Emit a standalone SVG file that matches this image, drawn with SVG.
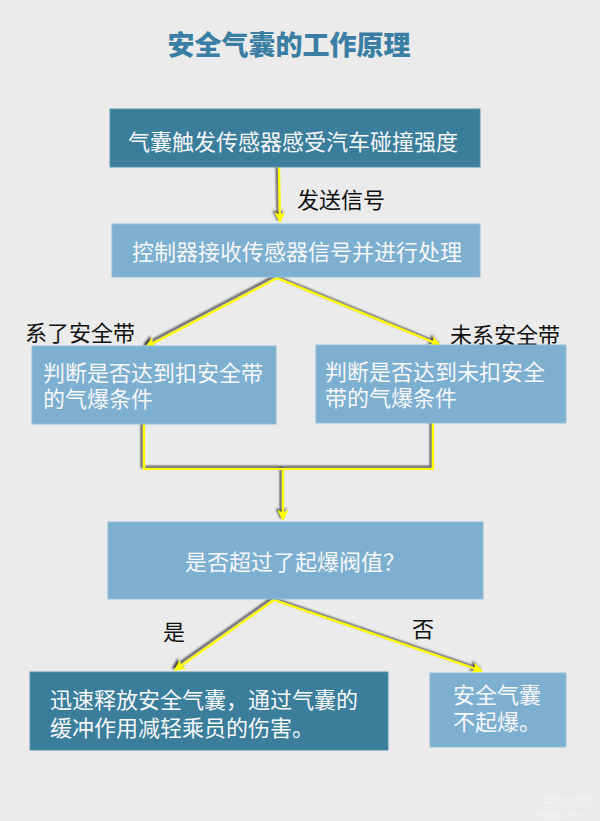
<svg xmlns="http://www.w3.org/2000/svg" width="600" height="821" viewBox="0 0 600 821">
  <defs>
    <style>
      .title { font-family: "Noto Sans CJK SC", "Noto Sans", sans-serif; font-weight: 900; font-size: 27px; fill: #3a7fa3; }
      .box-dark { fill: #3a7e9c; stroke: #5b94ae; stroke-width: 1; }
      .box-light { fill: #7cafd0; stroke: #93bedb; stroke-width: 1; }
      .t { font-family: "Noto Sans CJK SC", "Liberation Sans", sans-serif; font-size: 22px; fill: #f7f7f7; }
      .lbl { font-family: "Noto Sans CJK SC", "Liberation Sans", sans-serif; font-size: 22px; fill: #111111; }
      .conn { fill: none; stroke: #ffff00; stroke-width: 2.2; }
      .wm { font-family: "Noto Sans CJK SC", "Liberation Sans", sans-serif; fill: #d9d9d9; stroke: #f6f6f6; stroke-width: 0.4; }
    </style>
    <marker id="ah" viewBox="0 0 10 10" refX="9" refY="5" markerWidth="5.5" markerHeight="5" orient="auto" markerUnits="strokeWidth">
      <path d="M0,0 L10,5 L0,10 L2.5,5 Z" fill="#ffff00"/>
    </marker>
    <filter id="sh" x="-20%" y="-20%" width="140%" height="140%">
      <feDropShadow dx="-2" dy="-2" stdDeviation="0.8" flood-color="#222222" flood-opacity="0.9"/>
    </filter>
  </defs>

  <rect x="0" y="0" width="600" height="821" fill="#ebebeb"/>

  <text class="title" x="289" y="55" text-anchor="middle">安全气囊的工作原理</text>

  <g id="connectors" filter="url(#sh)">
    <line class="conn" x1="279" y1="167" x2="280" y2="222" marker-end="url(#ah)"/>
    <line class="conn" x1="277" y1="278" x2="146" y2="347" marker-end="url(#ah)"/>
    <line class="conn" x1="277" y1="278" x2="440" y2="345" marker-end="url(#ah)"/>
    <polyline class="conn" points="144,424 144,469 433,469 433,423"/>
    <line class="conn" x1="283" y1="469" x2="283" y2="520" marker-end="url(#ah)"/>
    <line class="conn" x1="274" y1="600" x2="175" y2="670" marker-end="url(#ah)"/>
    <line class="conn" x1="274" y1="600" x2="482" y2="671" marker-end="url(#ah)"/>
  </g>

  <g id="edge-labels">
    <text class="lbl" x="297" y="208">发送信号</text>
    <text class="lbl" x="25" y="341">系了安全带</text>
    <text class="lbl" x="450" y="343">未系安全带</text>
    <text class="lbl" x="163" y="640">是</text>
    <text class="lbl" x="412" y="637">否</text>
  </g>

  <g id="n1">
    <rect class="box-dark" x="110" y="109" width="370" height="58"/>
    <text class="t" x="293" y="150" text-anchor="middle">气囊触发传感器感受汽车碰撞强度</text>
  </g>

  <g id="n2">
    <rect class="box-light" x="112" y="224" width="368" height="53"/>
    <text class="t" x="297" y="260" text-anchor="middle">控制器接收传感器信号并进行处理</text>
  </g>

  <g id="n3">
    <rect class="box-light" x="32" y="346" width="244" height="78"/>
    <text class="t" x="43" y="381">判断是否达到扣安全带</text>
    <text class="t" x="43" y="407">的气爆条件</text>
  </g>

  <g id="n4">
    <rect class="box-light" x="316" y="345" width="250" height="78"/>
    <text class="t" x="325" y="380">判断是否达到未扣安全</text>
    <text class="t" x="325" y="406">带的气爆条件</text>
  </g>

  <g id="n5">
    <rect class="box-light" x="108" y="522" width="375" height="77"/>
    <text class="t" x="295" y="570" text-anchor="middle">是否超过了起爆阀值？</text>
  </g>

  <g id="n6">
    <rect class="box-dark" x="30" y="672" width="358" height="78"/>
    <text class="t" x="50" y="708">迅速释放安全气囊，通过气囊的</text>
    <text class="t" x="50" y="736">缓冲作用减轻乘员的伤害。</text>
  </g>

  <g id="n7">
    <rect class="box-light" x="430" y="673" width="136" height="74"/>
    <text class="t" x="453" y="703">安全气囊</text>
    <text class="t" x="453" y="730">不起爆。</text>
  </g>

  <g id="watermark">
    <text class="wm" x="562" y="806" font-size="10" text-anchor="middle">太平洋汽车网</text>
    <text class="wm" x="562" y="818" font-size="6.5" text-anchor="middle">PCauto.com.cn</text>
  </g>
</svg>
